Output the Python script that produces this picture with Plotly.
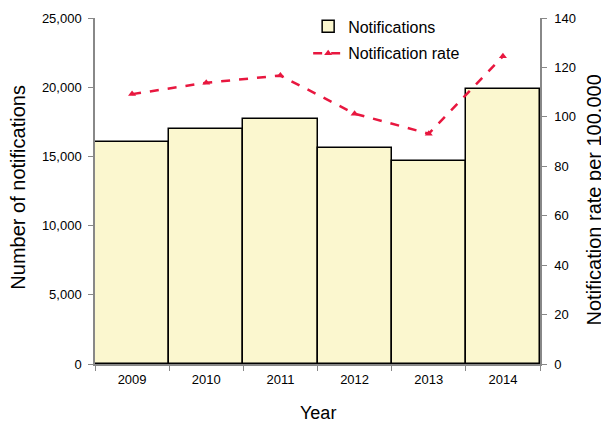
import plotly.graph_objects as go

years = ["2009", "2010", "2011", "2012", "2013", "2014"]
notifications = [16070, 16950, 17680, 15640, 14700, 19880]
rate = [109.2, 113.8, 116.7, 101.3, 93.2, 124.5]

FONT = "Liberation Sans, Arial, sans-serif"

fig = go.Figure()
fig.add_trace(go.Bar(
    x=years, y=notifications, name="Notifications",
    marker=dict(color="#FBF7CF", line=dict(color="#000000", width=1.5)),
    yaxis="y", legend="legend",
))
fig.add_trace(go.Scatter(
    x=years, y=rate, name="Notification rate", mode="lines+markers",
    line=dict(color="#E8173F", width=2.5, dash="dash"),
    marker=dict(symbol="triangle-up", size=7, color="#E8173F"),
    yaxis="y2", legend="legend2",
))

common_axis = dict(
    showline=True, linecolor="#888888", linewidth=1.5,
    ticks="outside", tickcolor="#888888", ticklen=5,
    showgrid=False, zeroline=False, automargin=False,
    tickfont=dict(size=13, family=FONT, color="#000000"),
)

fig.update_layout(
    width=601, height=418,
    margin=dict(l=87, r=69, t=9.5, b=61.5, autoexpand=False),
    paper_bgcolor="white", plot_bgcolor="white",
    font=dict(family=FONT, color="#000000"),
    bargap=0,
    showlegend=True,
    legend=dict(x=0.479, y=1.025, xanchor="left", yanchor="top",
                font=dict(size=16), bgcolor="rgba(0,0,0,0)", itemwidth=30),
    legend2=dict(x=0.479, y=0.947, xanchor="left", yanchor="top",
                 font=dict(size=16), bgcolor="rgba(0,0,0,0)", itemwidth=30),
    xaxis=dict(
        tickson="boundaries", range=[-0.5, 5.5], ticklabelstandoff=3,
        **common_axis,
    ),
    yaxis=dict(
        range=[0, 25000], dtick=5000, tickformat=",", ticklabelstandoff=4,
        **common_axis,
    ),
    yaxis2=dict(
        range=[0, 140], dtick=20, overlaying="y", side="right", ticklabelstandoff=5,
        **common_axis,
    ),
    annotations=[
        dict(text="Year", xref="paper", yref="paper", x=0.5, y=-0.143, yanchor="middle",
             showarrow=False, font=dict(size=18, family=FONT)),
        dict(text="Number of notifications", xref="paper", yref="paper", x=-0.175, y=0.51,
             xanchor="center", yanchor="middle", textangle=-90,
             showarrow=False, font=dict(size=20, family=FONT)),
        dict(text="Notification rate per 100,000", xref="paper", yref="paper", x=1.121, y=0.475,
             xanchor="center", yanchor="middle", textangle=-90,
             showarrow=False, font=dict(size=20, family=FONT)),
    ],
)

fig.write_html("out.html")
